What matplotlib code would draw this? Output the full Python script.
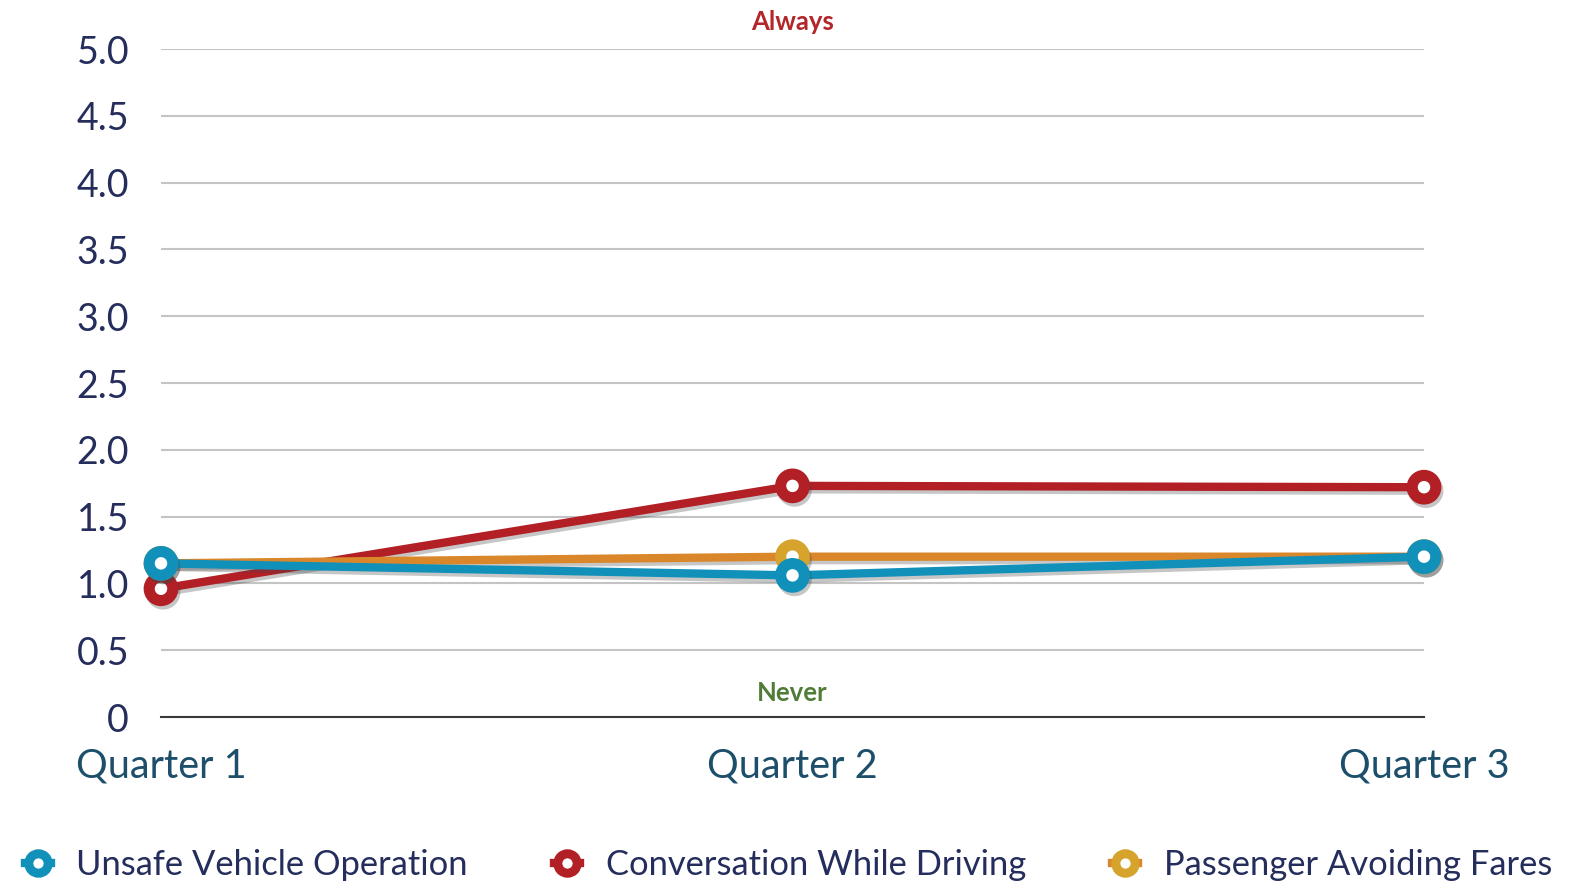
import matplotlib.pyplot as plt
import matplotlib.patheffects as pe
from matplotlib.lines import Line2D

plt.rcParams['font.family'] = ['Lato', 'DejaVu Sans']

quarters = ["Quarter 1", "Quarter 2", "Quarter 3"]
unsafe_vehicle = [1.15, 1.06, 1.20]
conversation = [0.96, 1.73, 1.72]
avoiding_fares = [1.15, 1.20, 1.20]
y_ticks = [0, 0.5, 1.0, 1.5, 2.0, 2.5, 3.0, 3.5, 4.0, 4.5, 5.0]
y_labels = ["0", "0.5", "1.0", "1.5", "2.0", "2.5", "3.0", "3.5", "4.0", "4.5", "5.0"]

BLUE = "#1190ba"
RED = "#b21f25"
ORANGE = "#da872b"
GOLD = "#d6a32c"
NAVY = "#252d5c"
TEAL = "#1d4f6b"

W, H = 1577, 881
fig = plt.figure(figsize=(W / 100, H / 100), dpi=100)
ax = fig.add_axes([161 / W, 1 - 717 / H, (1424 - 161) / W, (717 - 49) / H])

shadow = [pe.SimpleLineShadow(offset=(1.5, -2.5), shadow_color="#444444", alpha=0.3), pe.Normal()]

x = range(len(quarters))
series = [
    (conversation, RED, RED),
    (avoiding_fares, ORANGE, GOLD),
    (unsafe_vehicle, BLUE, BLUE),
]
for vals, lc, mc in series:
    ax.plot(x, vals, color=lc, lw=6, marker="o", ms=17, mew=8,
            mfc="white", mec=mc, clip_on=False, zorder=3, path_effects=shadow)

ax.set_xlim(0, 2)
ax.set_ylim(0, 5)
ax.set_yticks(y_ticks)
ax.set_yticklabels(y_labels)
ax.set_xticks(list(x))
ax.set_xticklabels(quarters)
ax.yaxis.grid(True, color="#c4c4c4", lw=1.5)
ax.set_axisbelow(True)
for s in ["left", "right", "top"]:
    ax.spines[s].set_visible(False)
ax.spines["bottom"].set_color("#3a3a3a")
ax.spines["bottom"].set_linewidth(1.5)
ax.tick_params(axis="y", length=0, pad=23, labelsize=27, labelcolor=NAVY)
ax.tick_params(axis="x", length=0, pad=22, labelsize=28.5, labelcolor=TEAL)

ax.text(1, 5.2, "Always", color="#b3262a", fontsize=18.5, fontweight="bold",
        ha="center", va="center", clip_on=False)
ax.text(1, 0.18, "Never", color="#4f7c36", fontsize=18.5, fontweight="bold",
        ha="center", va="center")

handles = [
    Line2D([], [], color=BLUE, lw=6, marker="o", ms=14, mew=6.5, mfc="white", mec=BLUE),
    Line2D([], [], color=RED, lw=6, marker="o", ms=14, mew=6.5, mfc="white", mec=RED),
    Line2D([], [], color=ORANGE, lw=6, marker="o", ms=14, mew=6.5, mfc="white", mec=GOLD),
]
labels = ["Unsafe Vehicle Operation", "Conversation While Driving", "Passenger Avoiding Fares"]
leg = fig.legend(handles, labels, loc="center", bbox_to_anchor=(0.5, 1 - 865 / H),
                 ncol=3, frameon=False, fontsize=24.8, handlelength=0.75,
                 handletextpad=0.75, columnspacing=2.5)
for t in leg.get_texts():
    t.set_color(NAVY)

fig.savefig("out.png", dpi=100)
